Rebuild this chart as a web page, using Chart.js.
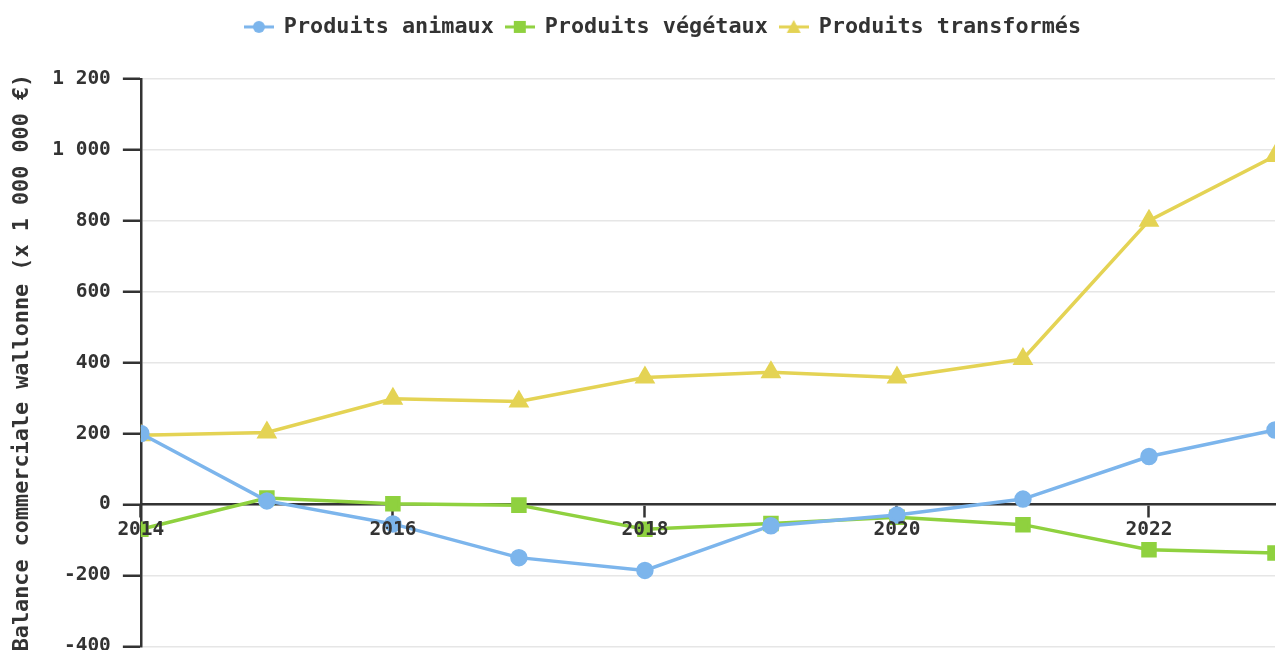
<!DOCTYPE html>
<html>
<head>
<meta charset="utf-8">
<script src="https://cdn.jsdelivr.net/npm/chart.js@4.4.0/dist/chart.umd.min.js"></script>
<style>
  html, body { margin: 0; padding: 0; overflow: hidden; background: #fff; }
  #wrap { position: relative; width: 1326px; height: 670px; }
</style>
</head>
<body>
<div id="wrap"><canvas id="balanceChart"></canvas></div>
<script>
// Balance commerciale wallonne - animaux / végétaux / transformés

const years = [2014, 2015, 2016, 2017, 2018, 2019, 2020, 2021, 2022, 2023];
const animaux = [200, 10, -55, -150, -186, -60, -30, 15, 135, 210];
const vegetaux = [-70, 18, 2, -2, -70, -54, -36, -57, -128, -137];
const transformes = [195, 203, 298, 290, 358, 373, 358, 410, 800, 982];
const yTicks = [-400, -200, 0, 200, 400, 600, 800, 1000, 1200];

const BLUE = '#7cb5ec';
const GREEN = '#8fd13f';
const YELLOW = '#e4d354';
const INK = '#333333';

function toPoints(values) {
    return years.map((y, i) => ({ x: y, y: values[i] }));
}

// little line-with-marker icon for the legend
function legendIcon(color, style) {
    const c = document.createElement('canvas');
    c.width = 30; c.height = 16;
    const ctx = c.getContext('2d');
    ctx.strokeStyle = color;
    ctx.fillStyle = color;
    ctx.lineWidth = 3;
    ctx.beginPath();
    ctx.moveTo(0, 8); ctx.lineTo(30, 8);
    ctx.stroke();
    ctx.beginPath();
    if (style === 'circle') {
        ctx.arc(15, 8, 6, 0, Math.PI * 2);
    } else if (style === 'rect') {
        ctx.rect(9, 2, 12, 12);
    } else {
        ctx.moveTo(15, 1); ctx.lineTo(22, 14); ctx.lineTo(8, 14); ctx.closePath();
    }
    ctx.fill();
    return c;
}

const frNumber = v => String(Math.abs(v)).replace(/\B(?=(\d{3})+(?!\d))/g, ' ');

const monoFont = '"DejaVu Sans Mono", monospace';

// more room under the legend, and centre it on the whole canvas
const legendTweaks = {
    id: 'legendTweaks',
    beforeLayout(chart) {
        const lg = chart.legend;
        if (!lg || lg._gapPatched) return;
        const origFit = lg.fit;
        lg.fit = function () {
            origFit.call(this);
            this.height += 31;
        };
        lg._gapPatched = true;
    },
    afterLayout(chart) {
        const lg = chart.legend;
        if (!lg) return;
        lg.left = 0;
        lg.right = chart.width;
        lg.width = chart.width;
    }
};

new Chart(document.getElementById('balanceChart'), {
    type: 'line',
    data: {
        datasets: [
            {
                label: 'Produits animaux',
                data: toPoints(animaux),
                borderColor: BLUE,
                backgroundColor: BLUE,
                pointStyle: 'circle',
                pointRadius: 7,
                borderWidth: 3.5,
                icon: legendIcon(BLUE, 'circle')
            },
            {
                label: 'Produits végétaux',
                data: toPoints(vegetaux),
                borderColor: GREEN,
                backgroundColor: GREEN,
                pointStyle: 'rect',
                pointRadius: 8.5,
                borderWidth: 3.5,
                icon: legendIcon(GREEN, 'rect')
            },
            {
                label: 'Produits transformés',
                data: toPoints(transformes),
                borderColor: YELLOW,
                backgroundColor: YELLOW,
                pointStyle: 'triangle',
                pointRadius: 8.5,
                borderWidth: 3.5,
                icon: legendIcon(YELLOW, 'triangle')
            }
        ]
    },
    plugins: [legendTweaks],
    options: {
        responsive: true,
        maintainAspectRatio: false,
        animation: false,
        layout: { padding: { left: 5, right: 51, top: 4, bottom: 0 } },
        plugins: {
            tooltip: { enabled: false },
            legend: {
                position: 'top',
                labels: {
                    usePointStyle: true,
                    pointStyleWidth: 28,
                    color: INK,
                    font: { family: monoFont, size: 21.8, weight: 'bold' },
                    padding: 12,
                    generateLabels(chart) {
                        return chart.data.datasets.map((ds, i) => ({
                            text: ds.label,
                            pointStyle: ds.icon,
                            fontColor: INK,
                            lineWidth: 0,
                            hidden: false,
                            datasetIndex: i
                        }));
                    }
                }
            }
        },
        scales: {
            x: {
                type: 'linear',
                position: { y: 0 },
                min: 2014,
                max: 2023,
                afterBuildTicks(axis) {
                    axis.ticks = years.filter(y => (y - 2014) % 2 === 0).map(v => ({ value: v }));
                },
                grid: {
                    drawOnChartArea: false,
                    drawTicks: true,
                    tickLength: 12,
                    tickColor: INK,
                    tickWidth: 2.5
                },
                border: { display: true, color: INK, width: 2.5 },
                ticks: {
                    z: 1,
                    color: INK,
                    padding: 2,
                    maxRotation: 0,
                    font: { family: monoFont, size: 19.5, weight: 'bold' },
                    callback: v => String(v)
                }
            },
            y: {
                min: -400,
                max: 1200,
                afterBuildTicks(axis) {
                    axis.ticks = yTicks.map(v => ({ value: v }));
                },
                grid: {
                    color: '#e6e6e6',
                    lineWidth: 1.5,
                    tickLength: 18,
                    tickColor: INK,
                    tickWidth: 2.5
                },
                border: { display: true, color: INK, width: 2.5 },
                ticks: {
                    color: INK,
                    padding: 12,
                    font: { family: monoFont, size: 19.5, weight: 'bold' },
                    callback: v => (v < 0 ? '-' : '') + frNumber(v)
                },
                title: {
                    display: true,
                    text: 'Balance commerciale wallonne (x 1 000 000 €)',
                    color: INK,
                    font: { family: monoFont, size: 21.8, weight: 'bold' },
                    padding: { top: 4, bottom: 5 }
                }
            }
        }
    }
});
</script>
</body>
</html>
